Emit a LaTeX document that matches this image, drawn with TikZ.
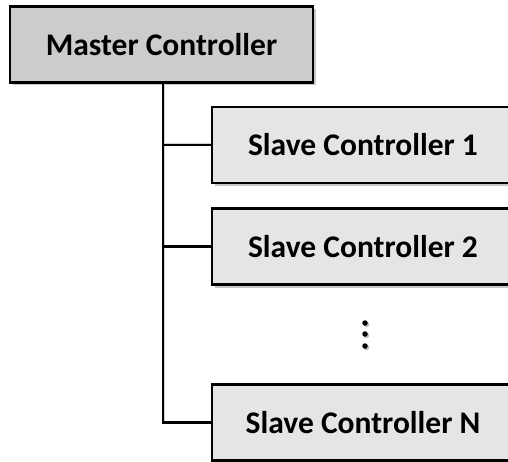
\documentclass[tikz,border=0pt]{standalone}
\usepackage{fontspec}
\setmainfont{Carlito}
\usetikzlibrary{shadows,calc}
\begin{document}
\begin{tikzpicture}[x=1pt,y=1pt,
  txt/.style={font=\fontsize{31.5}{36}\selectfont\bfseries, inner sep=0pt},
  master/.style={txt, draw=black, line width=2.2pt, fill=black!20,
    minimum width=303pt, minimum height=76pt,
    drop shadow={shadow xshift=3pt, shadow yshift=-3pt, fill=black!22, opacity=1}},
  slavefill/.style={fill=black!10},
  slaveshadow/.style={fill=black!22},
  slaveedge/.style={draw=black, line width=2.2pt},
  conn/.style={draw=black, line width=2.2pt},
  connshadow/.style={draw=black!18, line width=3pt},
  dotmark/.style={circle, fill=black, inner sep=0pt, minimum size=5.5pt,
    drop shadow={shadow xshift=1.5pt, shadow yshift=-1.5pt, fill=black!25, opacity=1}}
]
\path[use as bounding box] (0,0) rectangle (508,461);
% text nodes (slave boxes: left edge at x=212, running past the right edge)
\node[master] (m) at (161.5,416.5) {Master Controller};
\node[txt] (s1) at (363,316) {\phantom{Slave Controller 1}};
\node[txt] (s2) at (363,214.5) {\phantom{Slave Controller 2}};
\node[txt] (sn) at (363,38.5) {\phantom{Slave Controller N}};
\coordinate (v) at (163,0);
\coordinate (e) at (212,0);
\coordinate (far) at (640,0);
% connector shadows
\begin{scope}[xshift=4pt,yshift=-3pt]
\draw[connshadow] (m.south -| v) |- (sn -| e);
\draw[connshadow] (s1 -| v) -- (s1 -| e);
\draw[connshadow] (s2 -| v) -- (s2 -| e);
\end{scope}
% connectors
\draw[conn] (m.south -| v) |- (sn -| e);
\draw[conn] (s1 -| v) -- (s1 -| e);
\draw[conn] (s2 -| v) -- (s2 -| e);
% slave boxes
\foreach \b in {s1,s2,sn}{
  \path[slaveshadow] ($(\b -| e)+(3,-41)$) rectangle ($(\b -| far)+(0,35)$);
  \path[slavefill] ($(\b -| e)+(0,-38)$) rectangle ($(\b -| far)+(0,38)$);
  \draw[slaveedge] ($(\b -| far)+(0,38)$) -- ($(\b -| e)+(0,38)$)
     -- ($(\b -| e)+(0,-38)$) -- ($(\b -| far)+(0,-38)$);
}
\node[txt] at (s1) {Slave Controller 1};
\node[txt] at (s2) {Slave Controller 2};
\node[txt] at (sn) {Slave Controller N};
\node[dotmark] (d1) at (365,138) {};
\node[dotmark] (d2) at (365,127) {};
\node[dotmark] (d3) at (365,115) {};
\end{tikzpicture}
\end{document}
